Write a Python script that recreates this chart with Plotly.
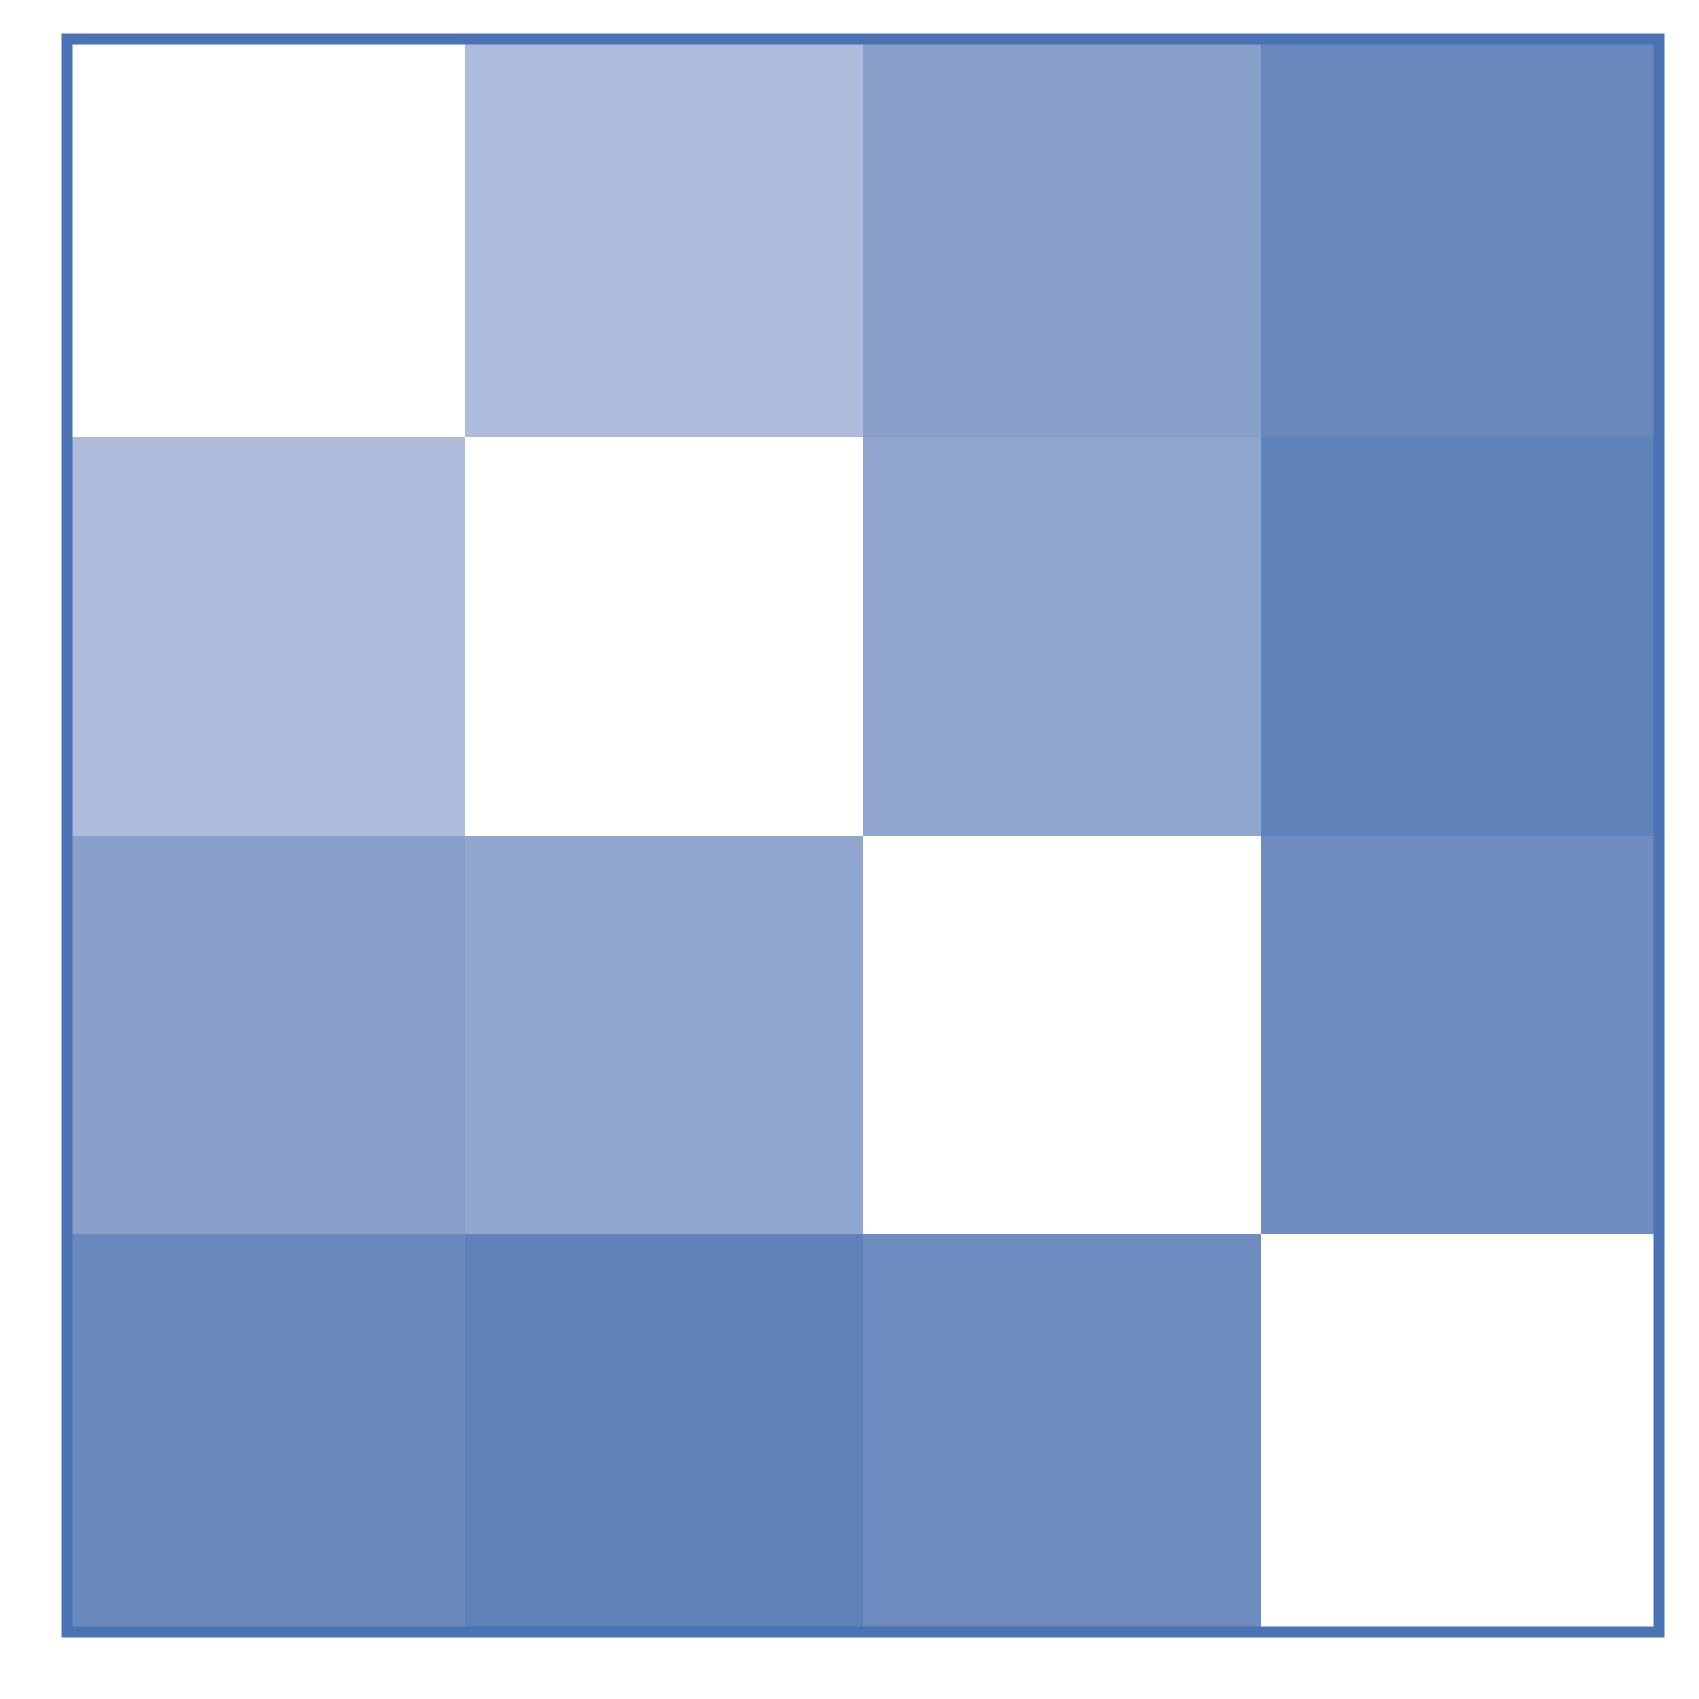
import plotly.graph_objects as go

labels = ["A", "B", "C", "D"]
row_a = [0.00, 0.51, 0.74, 0.94]
row_b = [0.51, 0.00, 0.69, 1.00]
row_c = [0.74, 0.69, 0.00, 0.91]
row_d = [0.94, 1.00, 0.91, 0.00]
z = [row_a, row_b, row_c, row_d]

colorscale = [[0.0, "#FFFFFF"], [0.51, "#AEBBDA"], [1.0, "#5F82B9"]]

fig = go.Figure(go.Heatmap(
    z=z, x=labels, y=labels,
    colorscale=colorscale, zmin=0, zmax=1,
    showscale=False, hoverinfo="skip",
))

fig.update_layout(
    width=1699, height=1699,
    margin=dict(l=67, r=40, t=39, b=67),
    paper_bgcolor="white", plot_bgcolor="white",
    xaxis=dict(visible=False, showgrid=False, zeroline=False, constrain="domain"),
    yaxis=dict(visible=False, showgrid=False, zeroline=False, autorange="reversed"),
    shapes=[dict(type="rect", xref="paper", yref="paper", x0=0, x1=1, y0=0, y1=1,
                 line=dict(color="#4B73B3", width=11), layer="above")],
)

fig.write_html("out.html")
